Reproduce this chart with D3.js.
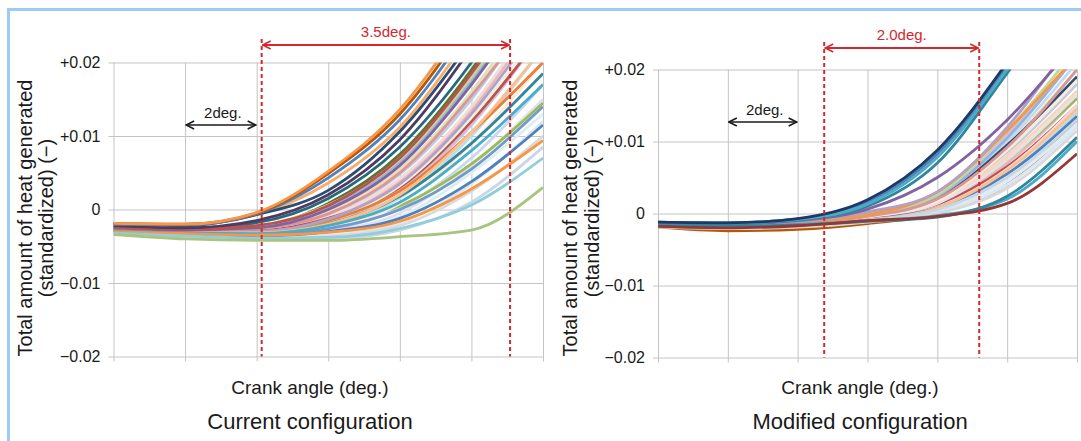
<!DOCTYPE html>
<meta charset="utf-8">
<style>
body { margin: 0; background: #fff; }
svg text { font-family: 'Liberation Sans', Arial, sans-serif; fill: #1a1a1a; }
.grid path, .ytick path { display: none; }
.grid line { stroke: #c4c4c4; stroke-width: 1; }
.ytick line { stroke: #c4c4c4; }
.ytick text { font-size: 16px; }
.curve { fill: none; stroke-width: 2.8; stroke-linejoin: round; }
.red { stroke: #d3282e; }
</style>
<svg id="svg" width="1081" height="441"></svg>
<script src="https://d3js.org/d3.v7.min.js"></script>
<script>

// crank angle steps (deg) and y ticks in units of 0.001 (standardized)
const crankAngles = [0, 1, 2, 3, 4, 5, 6];
const yTicks = [-20, -10, 0, 10, 20];
const yTickLabels = ['\u22120.02', '\u22120.01', '0', '+0.01', '+0.02'];

const yTitle = ['Total amount of heat generated', '(standardized) (\u2212)'];
const xTitle = 'Crank angle (deg.)';
const panelTitles = ['Current configuration', 'Modified configuration'];
const spanLabels = ['3.5deg.', '2.0deg.'];
const refLabel = '2deg.';

// current configuration, one row per cycle, values x1000
const currentCurves = [
    [-2.6, -3.0, -2.8, -0.8, 4.8, 15, 29],
    [-2.7, -3.1, -3.0, -1.2, 3.8, 13.5, 27],
    [-2.5, -2.9, -2.6, -0.3, 5.5, 16, 30],
    [-2.8, -3.2, -3.2, -1.8, 2.6, 11.5, 24],
    [-2.9, -3.3, -3.4, -2.2, 1.6, 10, 22],
    [-2.4, -2.8, -2.4, 0.8, 7.5, 19, 34],
    [-2.6, -3.0, -2.7, -0.5, 5.2, 15.5, 29],
    [-3.0, -3.4, -3.6, -2.8, 0.2, 7.0, 17],
    [-2.7, -3.0, -2.9, -1.0, 4.2, 14, 28],
    [-2.6, -3.0, -2.9, -1.2, 3.0, 12.0, 24],
    [-2.8, -3.2, -3.1, -1.5, 3.2, 12.5, 25],
    [-3.0, -3.5, -3.7, -3.0, -0.5, 6.0, 15],
    [-2.7, -3.0, -3.0, -1.8, 0.5, 6.2, 14.5],
    [-3.1, -3.6, -3.8, -3.2, -1.0, 5.0, 13],
    [-2.9, -3.4, -3.5, -2.5, 0.8, 9.0, 20],
    [-2.5, -2.8, -2.3, 0.3, 6.5, 17.5, 31],
    [-2.8, -3.1, -3.0, -1.5, 2.5, 10.5, 20],
    [-2.6, -2.9, -2.6, -0.6, 5.0, 15.5, 28],
    [-2.4, -2.7, -2.2, 0.6, 6.8, 18, 32],
    [-2.9, -3.3, -3.3, -2.0, 1.8, 9.0, 18.5],
    [-2.7, -3.1, -3.0, -1.3, 3.5, 13, 26],
    [-2.8, -3.2, -3.2, -2.0, 2.0, 10.5, 22],
    [-3.1, -3.6, -3.9, -3.5, -1.8, 3.5, 12],
    [-2.9, -3.3, -3.4, -2.6, 0.0, 5.5, 14],
    [-3.2, -3.7, -4.0, -3.7, -2.2, 2.5, 10],
    [-3.3, -3.8, -4.1, -4.0, -2.8, 1.0, 8.5],
    [-2.8, -3.2, -3.3, -2.2, 1.0, 8.0, 17],
    [-2.5, -2.8, -2.5, 0.0, 6.0, 17, 31],
    [-2.3, -2.6, -1.8, 1.5, 8.5, 20, 35],
    [-2.4, -2.7, -2.2, 0.5, 7.0, 18.5, 33],
    [-2.2, -2.5, -1.5, 2.0, 9.5, 22, 37],
    [-3.0, -3.4, -3.6, -3.0, -1.2, 3.8, 11.5],
    [-3.0, -3.3, -3.5, -3.1, -1.6, 2.8, 9.4],
    [-3.2, -3.6, -3.9, -3.8, -2.6, 0.6, 7.0],
    [-3.4, -4.0, -4.2, -4.2, -3.7, -2.8, 3.0],
    [-2.0, -2.1, -0.7, 3.6, 11.2, 24, 39],
    [-2.0, -2.2, -0.7, 2.6, 10.6, 23, 38],
    [-2.0, -2.1, -0.6, 4.3, 12.2, 25, 40],
    [-1.9, -2.0, -0.5, 4.9, 13.0, 26, 41],
    [-1.9, -2.0, -0.4, 5.2, 13.6, 27, 43]
];
const currentColors = [
    '#b9cde5', '#e6b9b8', '#d7e4bd', '#ccc1da', '#b7dee8', '#5f7530', '#fcd5b5', '#c6d9f1',
    '#f2dcdb', '#c0504d', '#ebf1de', '#e4dfec', '#9bbb59', '#dbeef4', '#fde9d9', '#95b3d7',
    '#ed7d31', '#da9694', '#c4d79b', '#31859c', '#b1a0c7', '#fabf8f', '#dce6f2', '#729aca',
    '#d9d9d9', '#c9d6e8', '#4bacc6', '#8064a2', '#276a7c', '#c0504d', '#4d3b62', '#4f81bd',
    '#f79646', '#92cddc', '#a9c47f', '#f9ab6b', '#2c4d75', '#4f81bd', '#b65708', '#f79646'
];

// modified configuration
const modifiedCurves = [
    [-1.5, -1.7, -1.4, -0.5, 1.8, 8.5, 18],
    [-1.6, -1.8, -1.5, -0.7, 1.2, 7.0, 16],
    [-1.5, -1.7, -1.3, -0.3, 2.2, 9.5, 20],
    [-1.9, -2.4, -2.2, -1.4, 0.0, 4.0, 13.0],
    [-1.4, -1.6, -1.2, 0.0, 2.8, 11, 22],
    [-1.7, -1.9, -1.6, -0.9, 0.6, 5.5, 14],
    [-1.5, -1.6, -1.3, -0.5, 1.5, 7.5, 16],
    [-1.6, -1.8, -1.5, -0.6, 1.5, 8.0, 17],
    [-1.4, -1.5, -1.2, -0.1, 2.5, 10, 21],
    [-1.6, -1.7, -1.4, -0.6, 1.2, 6.5, 15],
    [-1.7, -1.9, -1.6, -0.8, 0.9, 6.2, 15],
    [-1.5, -1.7, -1.4, -0.4, 2.0, 9.0, 19],
    [-1.3, -1.4, -1.0, 0.2, 2.2, 9.5, 19],
    [-1.6, -1.8, -1.5, -0.6, 1.4, 7.5, 16.5],
    [-1.8, -2.0, -1.7, -1.0, 0.3, 4.5, 12.5],
    [-1.5, -1.7, -1.5, -0.8, 0.8, 5.5, 13.5],
    [-1.6, -1.8, -1.4, -0.5, 1.7, 8.8, 18.5],
    [-1.5, -1.6, -1.3, -0.2, 2.4, 10.5, 22],
    [-1.6, -1.7, -1.4, -0.4, 2.0, 9.2, 20],
    [-1.5, -1.6, -1.2, -0.1, 2.6, 11.5, 23],
    [-1.5, -1.6, -1.2, -0.2, 3.0, 11.5, 22],
    [-1.4, -1.5, -1.1, 0.2, 3.0, 12, 25],
    [-1.7, -1.9, -1.6, -0.9, 0.8, 6.0, 14.5],
    [-1.8, -2.0, -1.8, -1.1, 0.2, 4.0, 12],
    [-1.9, -2.1, -1.9, -1.2, 0.0, 3.5, 11.5],
    [-1.7, -1.9, -1.7, -1.0, 0.5, 5.0, 13],
    [-1.4, -1.5, -1.0, 0.6, 5.0, 13, 24],
    [-1.6, -1.8, -1.5, -1.0, -0.3, 2.0, 10.0],
    [-1.7, -1.8, -1.6, -1.1, -0.5, 2.4, 10.6],
    [-1.8, -2.0, -1.7, -1.0, -0.4, 1.4, 8.3],
    [-1.3, -1.4, -0.9, 1.0, 7.0, 19.5, 33],
    [-1.2, -1.3, -0.8, 1.6, 8.3, 20.5, 35],
    [-1.2, -1.3, -0.8, 1.3, 7.8, 20, 34],
    [-1.2, -1.3, -0.7, 1.9, 8.8, 21, 36]
];
const modifiedColors = [
    '#b9cde5', '#e6b9b8', '#d7e4bd', '#b65708', '#ccc1da', '#b7dee8', '#9bbb59', '#fcd5b5',
    '#c6d9f1', '#c0504d', '#f2dcdb', '#ebf1de', '#2c4d75', '#e4dfec', '#dbeef4', '#4f81bd',
    '#fde9d9', '#95b3d7', '#da9694', '#c4d79b', '#f79646', '#b1a0c7', '#fabf8f', '#dce6f2',
    '#d9d9d9', '#c9d6e8', '#8064a2', '#4bacc6', '#31859c', '#953735', '#31859c', '#4f81bd',
    '#4bacc6', '#1f3864'
];

const svg = d3.select('#svg');

// light blue frame
svg.append('line').attr('x1', 7).attr('x2', 1081).attr('y1', 9.5).attr('y2', 9.5)
    .attr('stroke', '#9ccbf8').attr('stroke-width', 3);
svg.append('line').attr('x1', 8.5).attr('x2', 8.5).attr('y1', 8).attr('y2', 441)
    .attr('stroke', '#9ccbf8').attr('stroke-width', 3);

function translate(x, y) {
    return 'translate(' + x + ',' + y + ')';
}

// arrow heads
let defs = svg.append('defs');
[['red', '#d3282e'], ['blk', '#1a1a1a']].forEach(m => {
    defs.append('marker')
        .attr('id', 'arr-' + m[0])
        .attr('viewBox', '0 0 10 10')
        .attr('refX', 9).attr('refY', 5)
        .attr('markerWidth', 10).attr('markerHeight', 10)
        .attr('markerUnits', 'userSpaceOnUse')
        .attr('orient', 'auto-start-reverse')
        .append('path')
        .attr('d', 'M1,1 L9,5 L1,9')
        .attr('fill', 'none')
        .attr('stroke', m[1])
        .attr('stroke-width', 1.6);
});

function renderPanel(idx, curves, colors, box, opts) {
    let width = box.x1 - box.x0,
        height = box.y1 - box.y0;
    let g = svg.append('g').attr('transform', translate(box.x0, box.y0));

    let x = d3.scaleLinear().domain([0, 6]).range([0, width]);
    let y = d3.scaleLinear().domain([-20, 20]).range([height, 0]);

    // vertical grid, running a little under the plot
    g.append('g')
        .attr('class', 'grid')
        .attr('transform', translate(0, height + 5))
        .call(d3.axisBottom(x).tickValues(crankAngles).tickSize(-(height + 5)).tickFormat(''));

    // horizontal grid with tick labels
    g.append('g')
        .attr('class', 'ytick')
        .attr('transform', translate(-5, 0))
        .call(d3.axisLeft(y).tickValues(yTicks).tickSize(-(width + 5)).tickPadding(8)
            .tickFormat((d, i) => yTickLabels[i]));

    g.append('clipPath').attr('id', 'clip' + idx)
        .append('rect').attr('x', 0).attr('y', 0).attr('width', width).attr('height', height);

    let line = d3.line()
        .curve(d3.curveMonotoneX)
        .x((d, i) => x(crankAngles[i]))
        .y(d => y(d));

    g.append('g').attr('clip-path', 'url(#clip' + idx + ')')
        .selectAll('path')
        .data(curves)
        .enter().append('path')
        .attr('class', 'curve')
        .attr('stroke', (d, i) => colors[i])
        .attr('d', line);

    // red dashed span
    let top = opts.spanY - box.y0;
    opts.span.forEach(v => {
        g.append('line')
            .attr('class', 'red')
            .attr('x1', x(v)).attr('x2', x(v))
            .attr('y1', top - 6).attr('y2', height)
            .attr('stroke-width', 2)
            .attr('stroke-dasharray', '4 3');
    });
    g.append('line')
        .attr('class', 'red')
        .attr('x1', x(opts.span[0]) + 1).attr('x2', x(opts.span[1]) - 1)
        .attr('y1', top).attr('y2', top)
        .attr('stroke-width', 2)
        .attr('marker-start', 'url(#arr-red)')
        .attr('marker-end', 'url(#arr-red)');
    g.append('text')
        .attr('x', (x(opts.span[0]) + x(opts.span[1])) / 2)
        .attr('y', top - 8)
        .attr('text-anchor', 'middle')
        .style('font-size', '15px')
        .style('fill', '#d3282e')
        .text(spanLabels[idx]);

    // black reference arrow
    let ry = opts.refY - box.y0;
    g.append('line')
        .attr('x1', x(1) + 1).attr('x2', x(2) - 1)
        .attr('y1', ry).attr('y2', ry)
        .attr('stroke', '#1a1a1a')
        .attr('stroke-width', 1.6)
        .attr('marker-start', 'url(#arr-blk)')
        .attr('marker-end', 'url(#arr-blk)');
    g.append('text')
        .attr('x', (x(1) + x(2)) / 2 + 2)
        .attr('y', ry - 7)
        .attr('text-anchor', 'middle')
        .style('font-size', '15px')
        .text(refLabel);

    // axis titles
    yTitle.forEach((t, i) => {
        svg.append('text')
            .attr('transform', translate(opts.titleX[i], 218) + ' rotate(-90)')
            .attr('dy', '0.35em')
            .attr('text-anchor', 'middle')
            .style('font-size', '20px')
            .text(t);
    });
    svg.append('text')
        .attr('x', opts.labelX).attr('y', 394)
        .attr('text-anchor', 'middle')
        .style('font-size', '19px')
        .text(xTitle);
    svg.append('text')
        .attr('x', opts.labelX).attr('y', 429)
        .attr('text-anchor', 'middle')
        .style('font-size', '22px')
        .text(panelTitles[idx]);
}

renderPanel(0, currentCurves, currentColors,
    {x0: 113.5, x1: 543, y0: 62.5, y1: 356.5},
    {span: [2.07, 5.54], spanY: 45, refY: 125, titleX: [25, 46], labelX: 310});

renderPanel(1, modifiedCurves, modifiedColors,
    {x0: 658, x1: 1077, y0: 69.5, y1: 357.5},
    {span: [2.38, 4.6], spanY: 48, refY: 122, titleX: [570, 592], labelX: 860});

</script>
